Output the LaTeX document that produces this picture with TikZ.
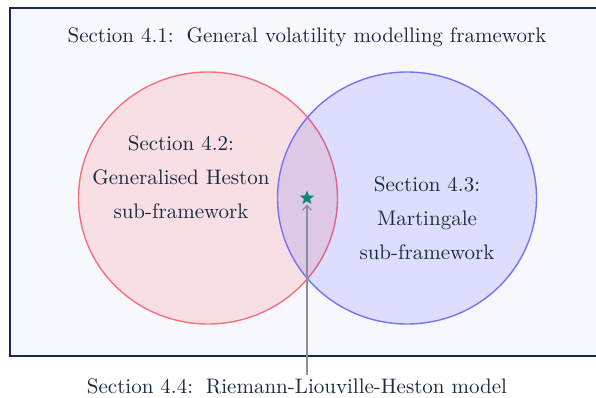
\documentclass[tikz,border=0pt]{standalone}
\usepackage{fontspec}
\setmainfont{lmroman10-regular}[Extension=.otf]
\usetikzlibrary{shapes.geometric,arrows.meta}
\definecolor{ink}{HTML}{1B2A41}
\definecolor{framefill}{HTML}{F7F8FD}
\definecolor{redline}{HTML}{F4717E}
\definecolor{blueline}{HTML}{7474F2}
\definecolor{startc}{HTML}{138680}
\definecolor{arrowc}{HTML}{8A8F9E}
\tikzset{
  lbl/.style={text=ink, font=\fontsize{21}{34}\selectfont, align=center},
  setc/.style={ellipse, minimum width=259pt, minimum height=252pt, inner sep=0pt, line width=1.4pt},
}
\begin{document}
\begin{tikzpicture}[x=1pt,y=-1pt]
\useasboundingbox (0,0) rectangle (596,398);
\node[draw=ink, fill=framefill, line width=1.6pt, minimum width=600pt, minimum height=348pt, inner sep=0pt, anchor=north west] (frame) at (9,7) {};
\node[lbl] (t41) at (307,37) {Section 4.1:\, General volatility modelling framework};
\node[setc, draw=redline, fill=red!85!pink, fill opacity=0.11] (A) at (208,198) {};
\node[setc, draw=blueline, fill=blue, fill opacity=0.10] (B) at (407,198) {};
\node[lbl] (t42) at (181,177) {Section 4.2:\\Generalised Heston\\sub-framework};
\node[lbl] (t43) at (427,218.5) {Section 4.3:\\Martingale\\sub-framework};
\node[star, star points=5, star point ratio=2.3, fill=startc, inner sep=0pt, minimum size=15pt] (s) at (307,198) {};
\node[lbl] (t44) at (297,386) {Section 4.4:\, Riemann-Liouville-Heston model};
\draw[arrowc, line width=1.2pt, -{Straight Barb[length=5pt,width=9pt]}] (t44.north -| s) -- ([yshift=-3pt]s.south);
\end{tikzpicture}
\end{document}
